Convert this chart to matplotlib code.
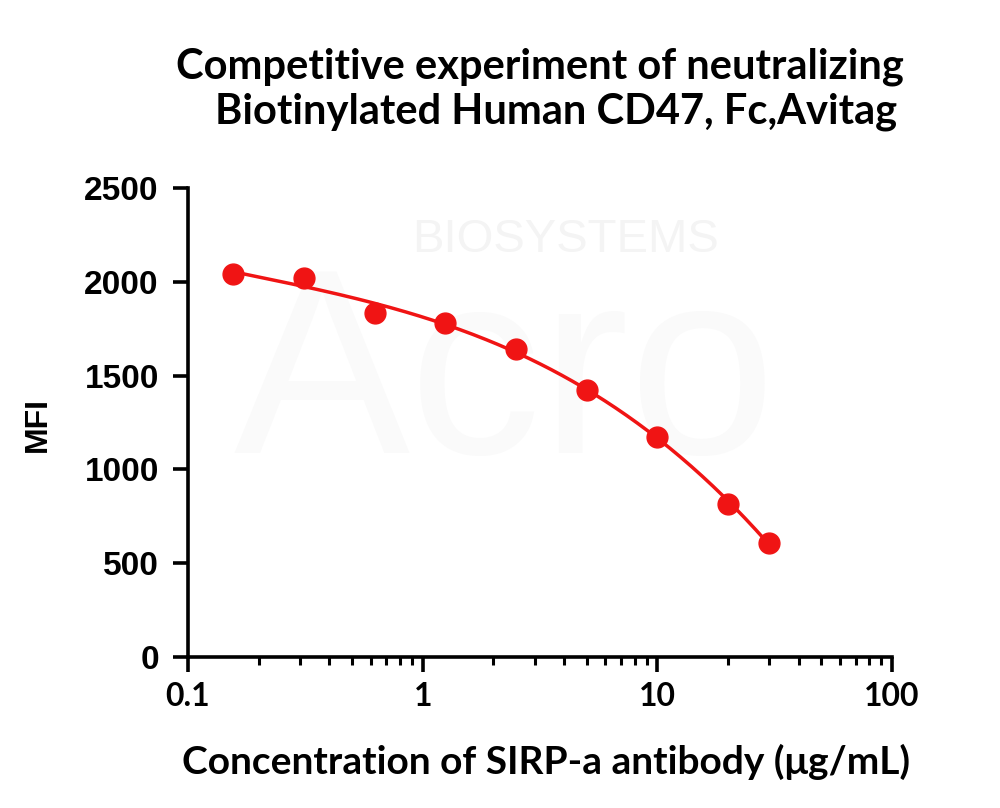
import numpy as np
import matplotlib
matplotlib.use("Agg")
import matplotlib.pyplot as plt
from matplotlib.ticker import LogLocator, FixedLocator, NullFormatter

conc = [0.156, 0.3125, 0.625, 1.25, 2.5, 5, 10, 20, 30]
mfi = [2042, 2019, 1832, 1782, 1640, 1423, 1171, 814, 609]
xticks = [0.1, 1, 10, 100]
xticklabels = ["0.1", "1", "10", "100"]
yticks = [0, 500, 1000, 1500, 2000, 2500]

title1 = "Competitive experiment of neutralizing"
title2 = "Biotinylated Human CD47, Fc,Avitag"
xlabel = "Concentration of SIRP-a antibody (μg/mL)"
ylabel = "MFI"

W, H = 1000, 808
fig = plt.figure(figsize=(W / 100, H / 100), dpi=100)
ax = fig.add_axes([188 / W, 1 - 657 / H, (892 - 188) / W, (657 - 188) / H])

# faint watermark (behind data)
ax.text(565 / W, 1 - 240 / H, "BIOSYSTEMS", transform=fig.transFigure, ha="center", va="center",
        fontfamily="Liberation Sans", fontsize=34, color="#f4f4f4", zorder=0)
ax.text(505 / W, 1 - 385 / H, "Acro", transform=fig.transFigure, ha="center", va="center",
        fontfamily="Liberation Sans", fontsize=190, color="#fafafa", zorder=0)

red = "#f01414"
lx = np.log10(conc)
coef = np.polyfit(lx, mfi, 3)
xs = np.linspace(lx.min(), lx.max(), 200)
ax.plot(10 ** xs, np.polyval(coef, xs), color=red, lw=2.5, zorder=3)
ax.plot(conc, mfi, "o", color=red, ms=15, zorder=4)

ax.set_xscale("log")
ax.set_xlim(0.1, 100)
ax.set_ylim(0, 2500)
ax.xaxis.set_major_locator(FixedLocator(xticks))
ax.xaxis.set_minor_locator(LogLocator(base=10, subs=np.arange(2, 10)))
ax.xaxis.set_minor_formatter(NullFormatter())
ax.set_xticklabels(xticklabels)
ax.set_yticks(yticks)

for s in ["top", "right"]:
    ax.spines[s].set_visible(False)
for s in ["left", "bottom"]:
    ax.spines[s].set_linewidth(2.6)
ax.tick_params(axis="both", which="major", width=2.6, length=11, direction="out", color="black")
ax.tick_params(axis="x", which="minor", width=2.2, length=6, direction="out")

calib = ["Lato", "DejaVu Sans"]
for lab in ax.get_yticklabels():
    lab.set_fontfamily("Liberation Sans")
    lab.set_fontweight("bold")
    lab.set_fontsize(24)
for lab in ax.get_xticklabels():
    lab.set_fontfamily(calib)
    lab.set_fontweight("bold")
    lab.set_fontsize(23)
ax.tick_params(axis="y", pad=10)
ax.tick_params(axis="x", pad=7)

fig.text(38 / W, 1 - 424 / H, ylabel, rotation=90, ha="center", va="center",
         fontfamily="Liberation Sans", fontweight="bold", fontsize=23)
fig.text(546 / W, 1 - 762 / H, xlabel, ha="center", va="center",
         fontfamily=calib, fontweight="bold", fontsize=28)
fig.text(540 / W, 1 - 67 / H, title1, ha="center", va="center",
         fontfamily=calib, fontweight="bold", fontsize=30)
fig.text(556 / W, 1 - 112 / H, title2, ha="center", va="center",
         fontfamily=calib, fontweight="bold", fontsize=30)

ax.set_facecolor("none")
fig.savefig("out.png", dpi=100)
